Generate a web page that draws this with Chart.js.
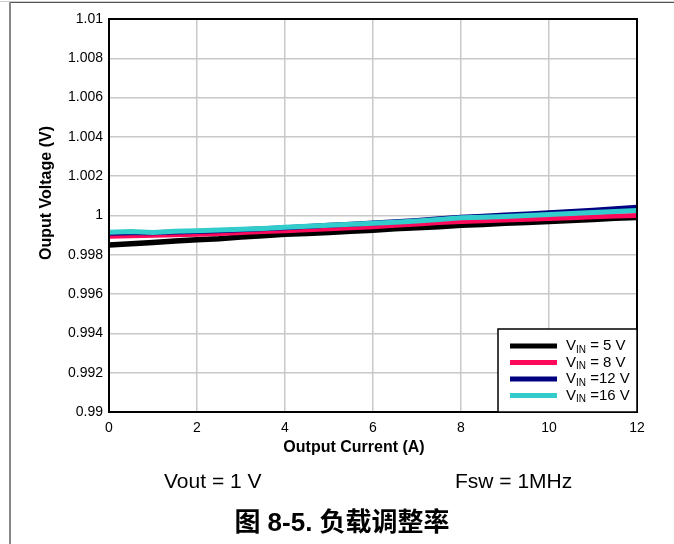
<!DOCTYPE html>
<html>
<head>
<meta charset="utf-8">
<script src="https://cdn.jsdelivr.net/npm/chart.js@4/dist/chart.umd.min.js"></script>
<style>
  html, body { margin: 0; padding: 0; background: #fff; }
  #wrap { width: 674px; height: 544px; }
</style>
</head>
<body>
<div id="wrap"><canvas id="chartLoadReg" width="674" height="544"></canvas></div>
<script>
// ============= DATA =============
const currentA = [0, 0.5, 1, 1.5, 2, 2.5, 3, 3.5, 4, 4.5, 5, 5.5, 6, 6.5, 7, 7.5, 8, 8.5, 9, 9.5, 10, 10.5, 11, 11.5, 12];
const vin5  = [0.99850, 0.99856, 0.99862, 0.99870, 0.99877, 0.99882, 0.99890, 0.99897, 0.99905, 0.99909, 0.99914, 0.99920, 0.99925, 0.99932, 0.99938, 0.99943, 0.99950, 0.99954, 0.99960, 0.99964, 0.99970, 0.99975, 0.99980, 0.99986, 0.99990];
const vin8  = [0.99895, 0.99897, 0.99899, 0.99902, 0.99905, 0.99909, 0.99913, 0.99918, 0.99923, 0.99928, 0.99933, 0.99938, 0.99943, 0.99950, 0.99957, 0.99964, 0.99970, 0.99973, 0.99977, 0.99981, 0.99985, 0.99989, 0.99993, 0.99997, 1.00000];
const vin12 = [0.99910, 0.99912, 0.99912, 0.99916, 0.99918, 0.99922, 0.99927, 0.99932, 0.99938, 0.99944, 0.99950, 0.99956, 0.99962, 0.99968, 0.99975, 0.99983, 0.99991, 0.99996, 1.00002, 1.00008, 1.00014, 1.00020, 1.00027, 1.00035, 1.00042];
const vin16 = [0.99915, 0.99918, 0.99914, 0.99920, 0.99922, 0.99926, 0.99930, 0.99934, 0.99940, 0.99945, 0.99950, 0.99955, 0.99960, 0.99966, 0.99972, 0.99980, 0.99988, 0.99991, 0.99995, 1.00000, 1.00005, 1.00010, 1.00015, 1.00020, 1.00025];

const legendMain = ['V', 'V', 'V', 'V'];
const legendSub  = ['IN', 'IN', 'IN', 'IN'];
const legendRest = [' = 5 V', ' = 8 V', ' =12 V', ' =16 V'];

const xTitle = 'Output Current (A)';
const yTitle = 'Ouput Voltage (V)';
const noteLeft = 'Vout = 1 V';
const noteRight = 'Fsw = 1MHz';
const caption = '图 8-5. 负载调整率';

const FONT = '"Liberation Sans", Arial, sans-serif';

function pts(ys) {
  return currentA.map((x, i) => ({ x, y: ys[i] }));
}

// ============= PLUGIN: page, frame, legend, titles, notes =============
const decor = {
  id: 'decor',
  beforeDraw(chart) {
    const ctx = chart.ctx;
    ctx.save();
    ctx.fillStyle = '#fff';
    ctx.fillRect(0, 0, chart.width, chart.height);
    ctx.fillStyle = '#cfcfcf';
    ctx.fillRect(0, 1, chart.width, 1);
    ctx.fillStyle = '#555';
    ctx.fillRect(9, 2, chart.width - 9, 1);
    ctx.fillStyle = '#888';
    ctx.fillRect(9, 2, 2, chart.height);
    ctx.restore();
  },
  afterDatasetsDraw(chart) {
    const ctx = chart.ctx;
    const a = chart.chartArea;
    ctx.save();
    // plot frame
    ctx.strokeStyle = '#000';
    ctx.lineWidth = 2;
    ctx.strokeRect(a.left, a.top, a.right - a.left, a.bottom - a.top);

    // legend box
    const w = 139, h = 83;
    const bx = a.right - w, by = a.bottom - h;
    ctx.fillStyle = '#fff';
    ctx.fillRect(bx, by, w, h);
    ctx.lineWidth = 1.5;
    ctx.strokeRect(bx, by, w, h);
    ctx.textBaseline = 'middle';
    ctx.textAlign = 'left';
    chart.data.datasets.forEach((ds, i) => {
      const y = by + 17 + i * 16.5;
      ctx.strokeStyle = ds.borderColor;
      ctx.lineWidth = 5;
      ctx.beginPath();
      ctx.moveTo(bx + 12, y);
      ctx.lineTo(bx + 59, y);
      ctx.stroke();
      let tx = bx + 68;
      ctx.fillStyle = '#000';
      ctx.font = '15px ' + FONT;
      ctx.fillText(legendMain[i], tx, y);
      tx += ctx.measureText(legendMain[i]).width;
      ctx.font = '10px ' + FONT;
      ctx.fillText(legendSub[i], tx, y + 4);
      tx += ctx.measureText(legendSub[i]).width;
      ctx.font = '15px ' + FONT;
      ctx.fillText(legendRest[i], tx, y);
    });
    ctx.restore();
  },
  afterDraw(chart) {
    const ctx = chart.ctx;
    ctx.save();
    ctx.fillStyle = '#000';
    // axis titles (sit off-centre in the original)
    ctx.font = 'bold 16px ' + FONT;
    ctx.textAlign = 'center';
    ctx.textBaseline = 'middle';
    ctx.fillText(xTitle, 354, 448);
    ctx.save();
    ctx.translate(47, 193);
    ctx.rotate(-Math.PI / 2);
    ctx.fillText(yTitle, 0, 0);
    ctx.restore();

    // notes + caption
    ctx.textBaseline = 'alphabetic';
    ctx.textAlign = 'left';
    ctx.font = '21px ' + FONT;
    ctx.fillText(noteLeft, 164, 488);
    ctx.fillText(noteRight, 455, 488);
    ctx.font = 'bold 26px "Liberation Sans", "Noto Sans CJK SC", sans-serif';
    ctx.textAlign = 'center';
    ctx.fillText(caption, 342, 531);
    ctx.restore();
  }
};

// ============= CHART =============
new Chart(document.getElementById('chartLoadReg'), {
  type: 'line',
  data: {
    datasets: [
      { label: 'VIN = 5 V',  data: pts(vin5),  borderColor: '#000000', borderWidth: 5.5, order: 4 },
      { label: 'VIN = 8 V',  data: pts(vin8),  borderColor: '#ff0a5a', borderWidth: 5, order: 3 },
      { label: 'VIN =12 V', data: pts(vin12), borderColor: '#000080', borderWidth: 5, order: 2 },
      { label: 'VIN =16 V', data: pts(vin16), borderColor: '#33cccc', borderWidth: 5, order: 1 }
    ]
  },
  options: {
    responsive: false,
    animation: false,
    devicePixelRatio: 1,
    elements: { point: { radius: 0 }, line: { tension: 0 } },
    layout: { padding: { left: 0, top: 19, right: 37, bottom: 84 } },
    plugins: { legend: { display: false }, tooltip: { enabled: false } },
    scales: {
      x: {
        type: 'linear', min: 0, max: 12,
        afterFit: s => { s.height = 48; },
        ticks: { stepSize: 2, color: '#000', padding: 8, font: { family: FONT, size: 14 }, maxRotation: 0 },
        grid: { color: '#c8c8c8', lineWidth: 1.5, drawTicks: false },
        border: { display: false }
      },
      y: {
        min: 0.99, max: 1.01,
        afterFit: s => { s.width = 109; },
        ticks: {
          stepSize: 0.002, color: '#000', padding: 6,
          font: { family: FONT, size: 14 },
          callback: v => String(+v.toFixed(3))
        },
        grid: { color: '#c8c8c8', lineWidth: 1.5, drawTicks: false },
        border: { display: false }
      }
    }
  },
  plugins: [decor]
});
</script>
</body>
</html>
